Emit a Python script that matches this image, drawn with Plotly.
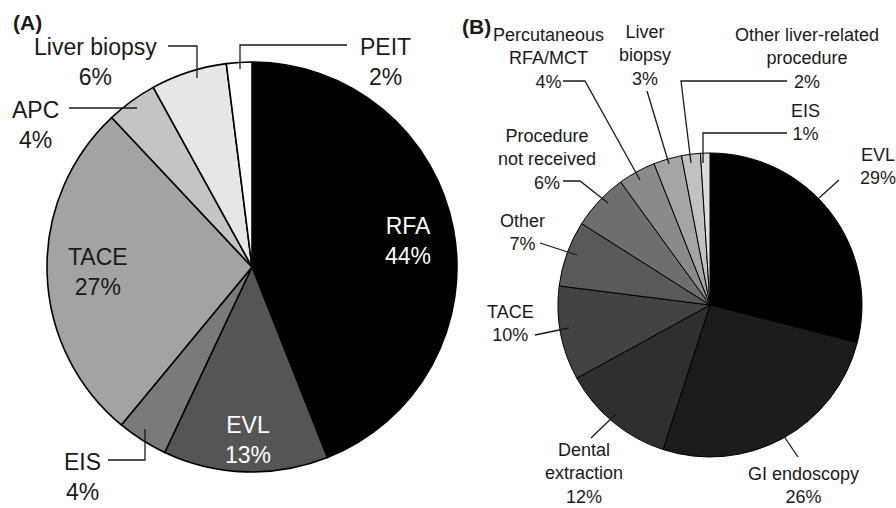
import plotly.graph_objects as go

# ---- data ----
a_labels = ["RFA", "EVL", "EIS", "TACE", "APC", "Liver biopsy", "PEIT"]
a_values = [44, 13, 4, 27, 4, 6, 2]
a_colors = ["#000000", "#555555", "#7a7a7a", "#a3a3a3", "#c4c4c4", "#e6e6e6", "#ffffff"]

b_labels = ["EVL", "GI endoscopy", "Dental extraction", "TACE", "Other",
            "Procedure not received", "Percutaneous RFA/MCT", "Liver biopsy",
            "Other liver-related procedure", "EIS"]
b_values = [29, 26, 12, 10, 7, 6, 4, 3, 2, 1]
b_colors = ["#000000", "#1c1c1c", "#2f2f2f", "#434343", "#595959", "#6e6e6e",
            "#8a8a8a", "#a5a5a5", "#c2c2c2", "#dcdcdc"]

W, H = 896, 508

def px(x, y):
    return x / W, 1 - y / H

def dom(cx, cy, r):
    return dict(x=[(cx - r) / W, (cx + r) / W], y=[1 - (cy + r) / H, 1 - (cy - r) / H])

fig = go.Figure()
fig.add_trace(go.Pie(labels=a_labels, values=a_values, sort=False, direction="clockwise",
                     rotation=0, textinfo="none", hoverinfo="label+percent",
                     marker=dict(colors=a_colors, line=dict(color="#000000", width=1.6)),
                     domain=dom(252, 267, 205), showlegend=False))
fig.add_trace(go.Pie(labels=b_labels, values=b_values, sort=False, direction="clockwise",
                     rotation=0, textinfo="none", hoverinfo="label+percent",
                     marker=dict(colors=b_colors, line=dict(color="#000000", width=1)),
                     domain=dom(710, 305, 152), showlegend=False))

FONT = "Arial, Liberation Sans, sans-serif"
annotations = []

def label(text, x, y, size, color="#1a1a1a", bold=False):
    if bold:
        text = "<b>" + text + "</b>"
    xp, yp = px(x, y)
    annotations.append(dict(text=text, x=xp, y=yp, xref="paper", yref="paper",
                            showarrow=False, xanchor="center", yanchor="middle",
                            align="center", font=dict(family=FONT, size=size, color=color)))

shapes = []

def leader(points):
    d = ""
    for i, (x, y) in enumerate(points):
        xp, yp = px(x, y)
        d += ("M" if i == 0 else "L") + f"{xp},{yp} "
    shapes.append(dict(type="path", path=d.strip(), xref="paper", yref="paper",
                       line=dict(color="#1a1a1a", width=1.3)))

# Panel A labels
SA = 23
label("(A)", 27, 22, 21, bold=True)
label("Liver biopsy<br>6%", 95, 62, SA)
label("PEIT<br>2%", 385, 62, SA)
label("APC<br>4%", 35, 125, SA)
label("TACE<br>27%", 98, 272, SA)
label("RFA<br>44%", 408, 241, SA, color="#ffffff")
label("EVL<br>13%", 248, 440, SA, color="#ffffff")
label("EIS<br>4%", 82, 477, SA)

leader([(168, 46), (197, 46), (197, 78)])
leader([(347, 45), (240, 45), (240, 69)])
leader([(69, 108), (137, 108)])
leader([(108, 460), (145, 460), (145, 429)])

# Panel B labels
SB = 18
label("(B)", 476, 26, 21, bold=True)
label("Percutaneous<br>RFA/MCT<br>4%", 548, 58, SB)
label("Liver<br>biopsy<br>3%", 645, 55, SB)
label("Other liver-related<br>procedure<br>2%", 807, 58, SB)
label("EIS<br>1%", 805, 122, SB)
label("EVL<br>29%", 878, 166, SB)
label("Procedure<br>not received<br>6%", 547, 159, SB)
label("Other<br>7%", 522, 232, SB)
label("TACE<br>10%", 510, 323, SB)
label("Dental<br>extraction<br>12%", 584, 473, SB)
label("GI endoscopy<br>26%", 803, 485, SB)

leader([(563, 81), (585, 81), (640, 180)])
leader([(647, 91), (669, 164)])
leader([(787, 81), (681, 81), (691, 163)])
leader([(787, 133), (703, 133), (703, 163)])
leader([(839, 180), (819, 198)])
leader([(563, 181), (580, 181), (608, 203)])
leader([(540, 243), (577, 255)])
leader([(535, 335), (569, 328)])
leader([(591, 438), (616, 414)])
leader([(798, 457), (779, 429)])

fig.update_layout(width=W, height=H, margin=dict(l=0, r=0, t=0, b=0),
                  paper_bgcolor="#ffffff", plot_bgcolor="#ffffff",
                  annotations=annotations, shapes=shapes,
                  font=dict(family=FONT))
fig.write_html("out.html", config={"displayModeBar": False},
               post_script="document.body.style.margin='0';document.body.style.padding='0';")
